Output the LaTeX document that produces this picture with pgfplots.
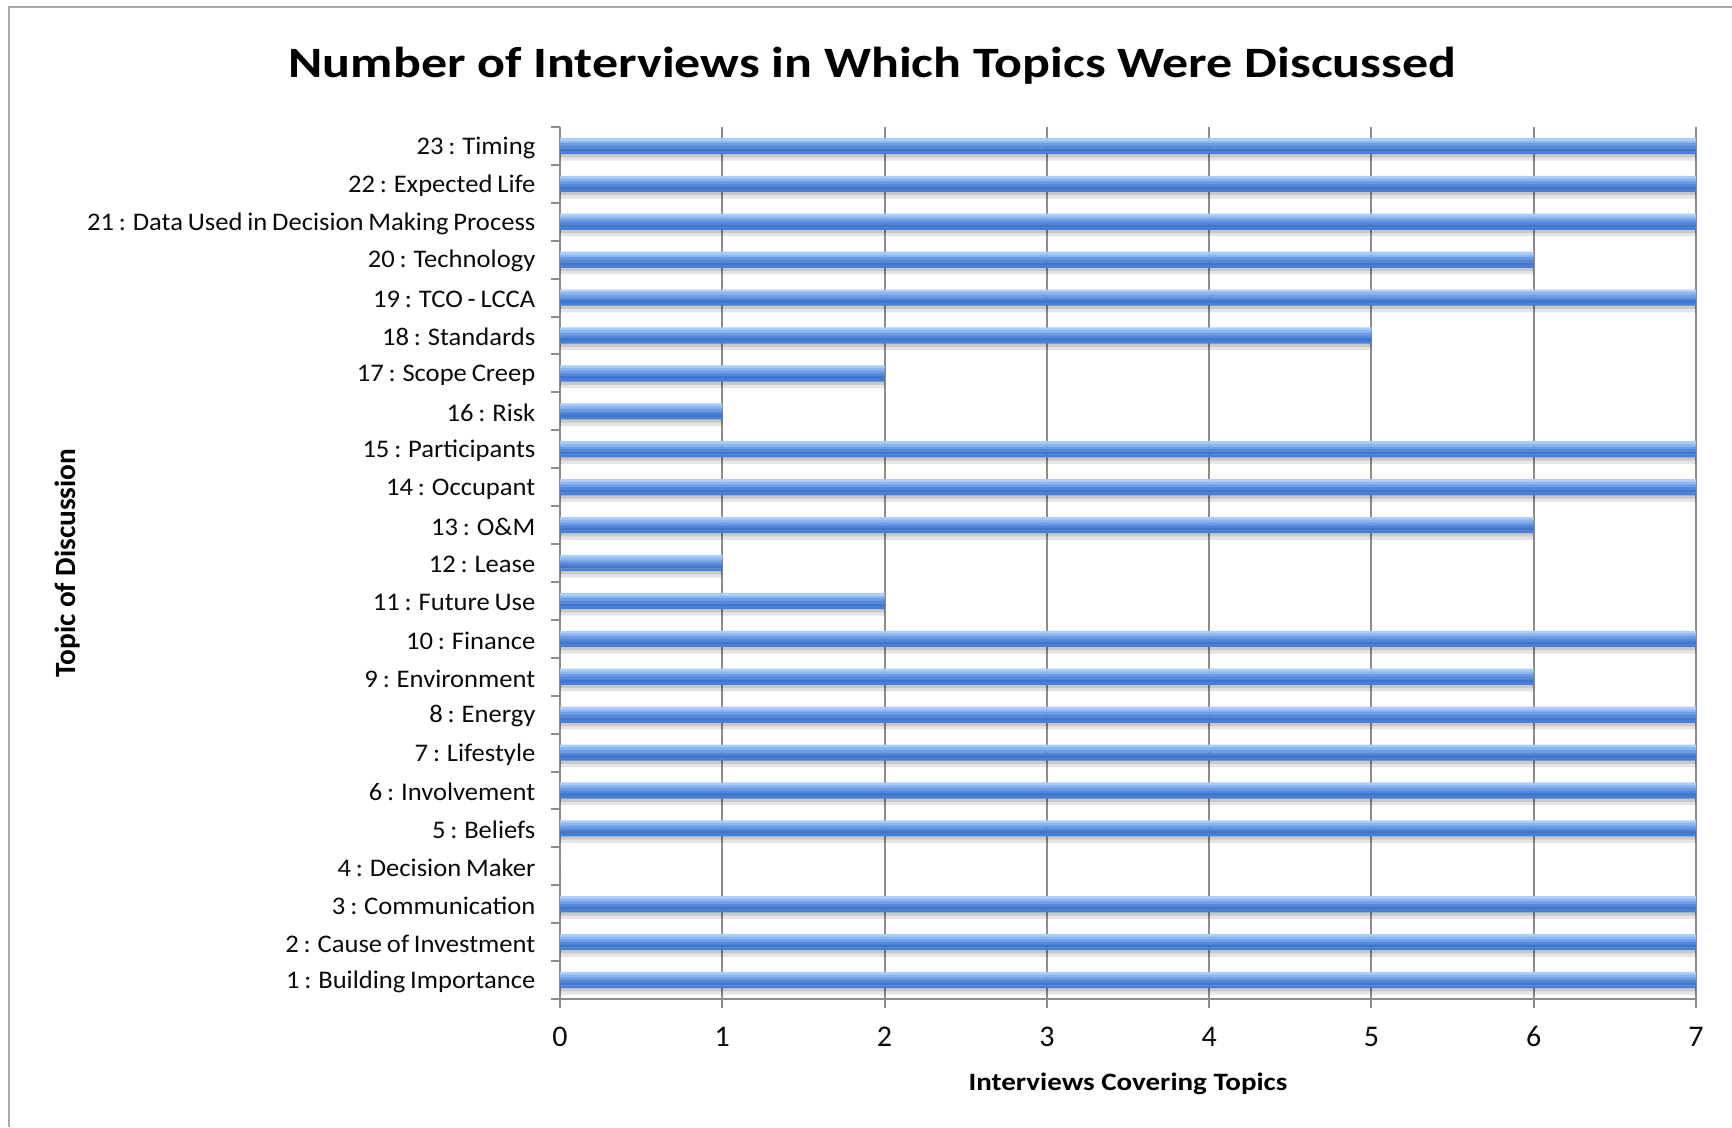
\documentclass[border=0pt]{standalone}
\usepackage{fontspec}
\setmainfont{Carlito}
\newfontfamily\titlefont[FakeStretch=1.2]{Carlito}
\newfontfamily\tickfont[FakeStretch=1.05, WordSpace=0.8]{Carlito}
\newfontfamily\xlabfont[FakeStretch=1.16]{Carlito}
\usepackage{pgfplots}
\usepackage{pgfplotstable}
\pgfplotsset{compat=1.18}
\definecolor{gridgray}{RGB}{140,140,140}
\definecolor{framegray}{RGB}{170,170,170}
\definecolor{barA}{RGB}{172,205,247}
\definecolor{barB}{RGB}{140,182,241}
\definecolor{barC}{RGB}{108,157,230}
\definecolor{barD}{RGB}{84,136,218}
\definecolor{barE}{RGB}{64,118,206}
\definecolor{barF}{RGB}{74,128,212}
\definecolor{labelblack}{RGB}{10,10,10}

\pgfplotstableread{
topic count
1 7
2 7
3 7
4 0
5 7
6 7
7 7
8 7
9 6
10 7
11 2
12 1
13 6
14 7
15 7
16 1
17 2
18 5
19 7
20 6
21 7
22 7
23 7
}\datatable

\begin{document}
\begin{tikzpicture}
\useasboundingbox (0,0) rectangle (519.6pt,-338.1pt);
\draw[framegray, line width=0.6pt] (519.6pt,-2.1pt) -- (2.7pt,-2.1pt) -- (2.7pt,-338.1pt);
\begin{axis}[
  at={(168pt,-299.7pt)}, anchor=south west,
  scale only axis, width=340.8pt, height=261.6pt,
  xmin=0, xmax=7, ymin=0.5, ymax=23.5,
  axis x line*=bottom, axis y line*=left,
  axis line style={gridgray, line width=0.6pt, -},
  xtick={0,1,...,7},
  ytick={0.5,1.5,...,23.5},
  yticklabels={},
  extra y ticks={1,2,...,23},
  extra y tick labels={1 : Building Importance, 2 : Cause of Investment, 3 : Communication, 4 : Decision Maker, 5 : Beliefs, 6 : Involvement, 7 : Lifestyle, 8 : Energy, 9 : Environment, 10 : Finance, 11 : Future Use, 12 : Lease, 13 : O\&M, 14 : Occupant, 15 : Participants, 16 : Risk, 17 : Scope Creep, 18 : Standards, 19 : TCO - LCCA, 20 : Technology, 21 : Data Used in Decision Making Process, 22 : Expected Life, 23 : Timing},
  extra y tick style={major tick length=0pt, tick style={draw=none}},
  xmajorgrids, major grid style={gridgray, line width=0.6pt},
  tick align=outside,
  major tick length=2.7pt,
  tick style={gridgray, line width=0.6pt},
  yticklabel style={font=\tickfont\fontsize{7.6}{9}\selectfont, text=labelblack, anchor=east, inner sep=0pt, xshift=-7.2pt, yshift=-0.5pt},
  xticklabel style={font=\fontsize{9}{10}\selectfont, text=labelblack, anchor=base, inner sep=0pt, yshift=-11.4pt},
  /pgf/number format/assume math mode=true,
  title={Number of Interviews in Which Topics Were Discussed},
  title style={at={(rel axis cs:0.2751,1.0573)}, anchor=base, yshift=-6pt, inner sep=0pt, font=\titlefont\bfseries\fontsize{13}{15}\selectfont},
  xlabel={Interviews Covering Topics},
  xlabel style={at={(rel axis cs:0.5,-0.1044)}, anchor=base, inner sep=0pt, font=\xlabfont\bfseries\fontsize{7.5}{9}\selectfont},
  ylabel={Topic of Discussion},
  ylabel style={at={(rel axis cs:-0.4269,0.5)}, anchor=base, inner sep=0pt, font=\bfseries\fontsize{8.8}{10}\selectfont},
]
% soft shadow
\addplot[xbar, bar width=5.4pt, bar shift=-1.7pt, draw=none, fill=black, fill opacity=0.10, forget plot] table[x=count, y=topic] {\datatable};
\addplot[xbar, bar width=4.8pt, bar shift=-1.0pt, draw=none, fill=black, fill opacity=0.12, forget plot] table[x=count, y=topic] {\datatable};
% bar gradient in stripes, top to bottom
\addplot[xbar, bar width=0.85pt, bar shift=2.0pt, draw=none, fill=barA, forget plot] table[x=count, y=topic] {\datatable};
\addplot[xbar, bar width=0.85pt, bar shift=1.2pt, draw=none, fill=barB, forget plot] table[x=count, y=topic] {\datatable};
\addplot[xbar, bar width=0.85pt, bar shift=0.4pt, draw=none, fill=barC, forget plot] table[x=count, y=topic] {\datatable};
\addplot[xbar, bar width=0.85pt, bar shift=-0.4pt, draw=none, fill=barD, forget plot] table[x=count, y=topic] {\datatable};
\addplot[xbar, bar width=0.85pt, bar shift=-1.2pt, draw=none, fill=barE, forget plot] table[x=count, y=topic] {\datatable};
\addplot[xbar, bar width=0.85pt, bar shift=-2.0pt, draw=none, fill=barF] table[x=count, y=topic] {\datatable};
\end{axis}
\end{tikzpicture}
\end{document}
